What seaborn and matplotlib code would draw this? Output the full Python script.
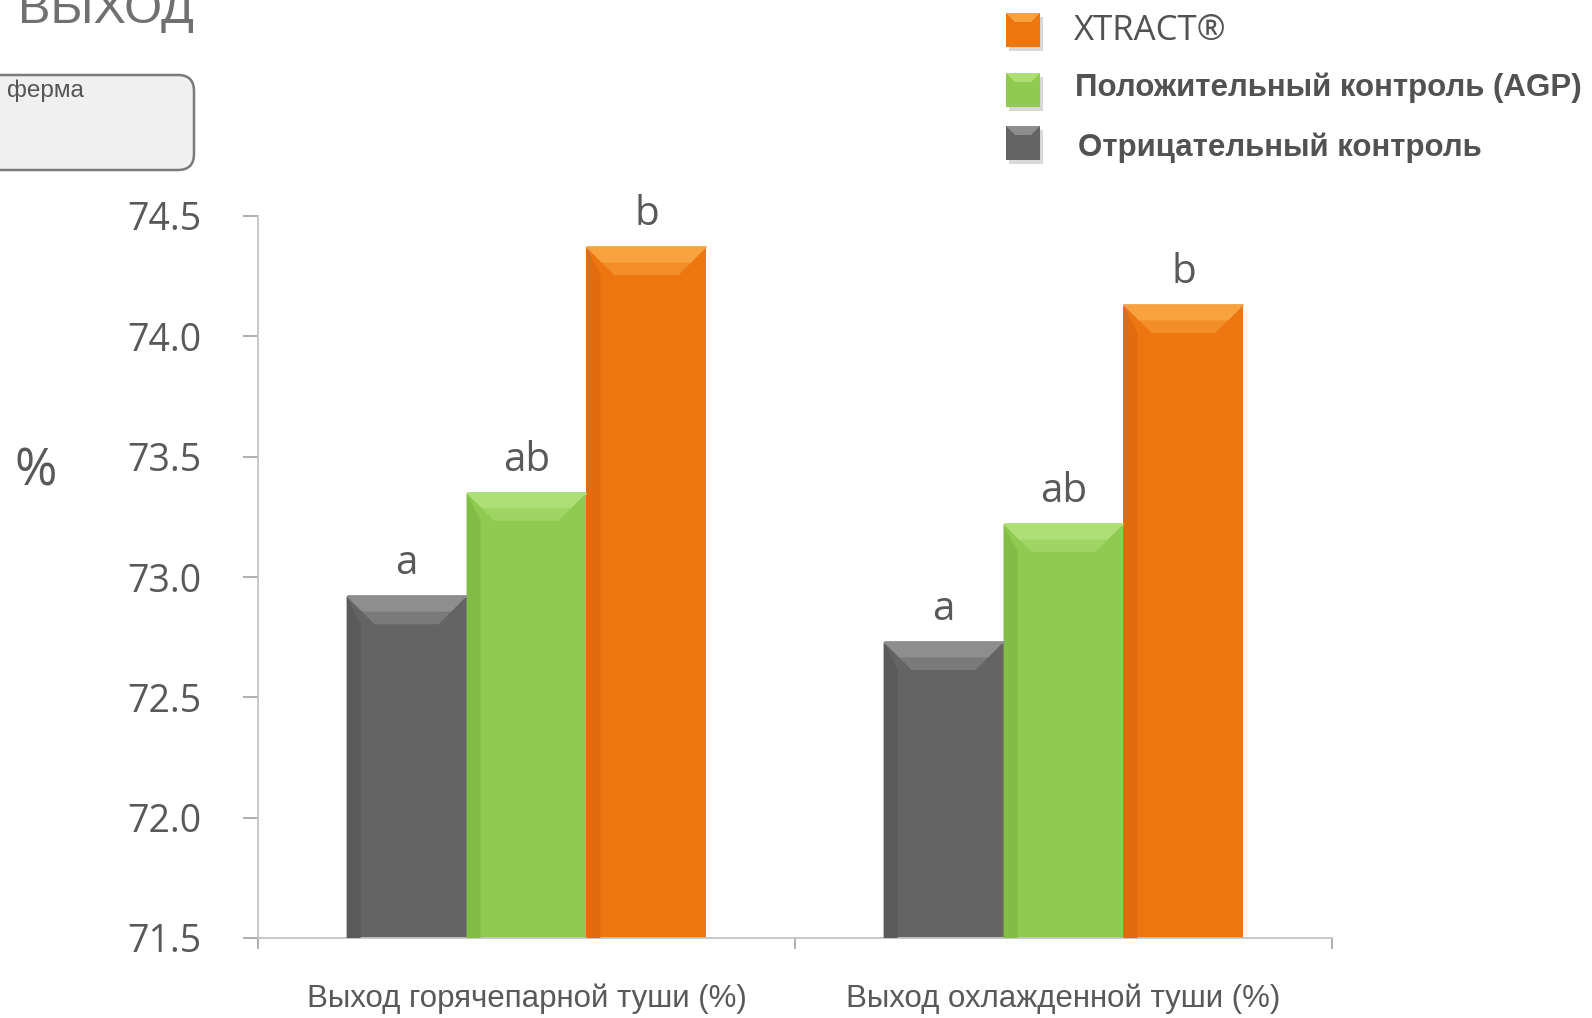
import matplotlib
matplotlib.use("Agg")
import matplotlib.pyplot as plt
import seaborn as sns
import pandas as pd
import numpy as np
from matplotlib.patches import Polygon, Rectangle, FancyBboxPatch

# ---- data ----
categories = ["Выход горячепарной туши (%)", "Выход охлажденной туши (%)"]
groups = ["Отрицательный контроль", "Положительный контроль (AGP)", "XTRACT®"]
neg_values = [72.92, 72.73]
agp_values = [73.35, 73.22]
xtract_values = [74.37, 74.13]
neg_letters = ["a", "a"]
agp_letters = ["ab", "ab"]
xtract_letters = ["b", "b"]
y_ticks = [71.5, 72.0, 72.5, 73.0, 73.5, 74.0, 74.5]
title_text = "ВЫХОД"
box_text = "ферма"
y_label = "%"

colors = ["#646464", "#8fcb51", "#ee7611"]
top_colors = ["#8e8e8e", "#addf76", "#f7a23e"]
mid_colors = ["#7a7a7a", "#9ed563", "#f28d27"]
left_colors = ["#5a5a5a", "#82bd47", "#e06c0d"]

df = pd.DataFrame({
    "cat": categories * 3,
    "group": [groups[0]] * 2 + [groups[1]] * 2 + [groups[2]] * 2,
    "value": neg_values + agp_values + xtract_values,
})
letters = [neg_letters, agp_letters, xtract_letters]

sns.set_style("white")
plt.rcParams["font.family"] = ["Open Sans", "DejaVu Sans"]

fig = plt.figure(figsize=(15.92, 10.18), dpi=100)
ax = fig.add_axes([258 / 1592, 1 - 938 / 1018, (1332 - 258) / 1592, (938 - 216) / 1018])

sns.barplot(data=df, x="cat", y="value", hue="group", hue_order=groups,
            order=categories, palette=colors, width=0.67, saturation=1,
            edgecolor="none", linewidth=0, legend=False, ax=ax)

ax.set_xlim(-0.5, 1.5)
ax.set_ylim(71.5, 74.5)
ax.set_yticks(y_ticks)
ax.set_yticklabels([f"{v:.1f}" for v in y_ticks])
ax.set_xlabel("")
ax.set_ylabel("")

for s in ["top", "right"]:
    ax.spines[s].set_visible(False)
for s in ["left", "bottom"]:
    ax.spines[s].set_color("#c4c4c4")
    ax.spines[s].set_linewidth(1.3)

ax.tick_params(axis="y", which="major", direction="out", length=10.5, width=1.3,
               color="#a8a8a8", pad=30, labelsize=27, labelcolor="#595959", left=True)
ax.tick_params(axis="x", which="major", length=0, pad=33, labelsize=22.5,
               labelcolor="#595959")
for lab in ax.get_xticklabels():
    lab.set_family(["Liberation Sans", "DejaVu Sans"])
ax.set_xticks([-0.5, 0.5, 1.5], minor=True)
ax.tick_params(axis="x", which="minor", direction="out", length=8, width=1.3,
               color="#a8a8a8", bottom=True)

# bevel decorations derived from the bar geometry
px_x = ax.transData.transform([(1, 0)])[0][0] - ax.transData.transform([(0, 0)])[0][0]
px_y = ax.transData.transform([(0, 1)])[0][1] - ax.transData.transform([(0, 0)])[0][1]
d = 28
dx, dy = d / px_x, d / px_y
side = 14 / px_x
for gi, cont in enumerate(ax.containers):
    for bi, bar in enumerate(cont):
        x0 = bar.get_x()
        w = bar.get_width()
        top = bar.get_y() + bar.get_height()
        x1 = x0 + w
        base = 71.5
        # left darker strip
        ax.add_patch(Polygon([(x0, base), (x0, top), (x0 + side, top - dy), (x0 + side, base)],
                             closed=True, facecolor=left_colors[gi], edgecolor="none", zorder=3))
        # top bevel (two tones for a soft gradient)
        ax.add_patch(Polygon([(x0, top), (x1, top), (x1 - dx, top - dy), (x0 + dx, top - dy)],
                             closed=True, facecolor=mid_colors[gi], edgecolor="none", zorder=3))
        ax.add_patch(Polygon([(x0, top), (x1, top), (x1 - dx * 0.55, top - dy * 0.55),
                              (x0 + dx * 0.55, top - dy * 0.55)],
                             closed=True, facecolor=top_colors[gi], edgecolor="none", zorder=3))
        ax.plot([x0, x1], [top, top], color=top_colors[gi], lw=2, zorder=4,
                solid_capstyle="butt")
        ax.annotate(letters[gi][bi], xy=(x0 + w / 2, top), xytext=(0, 16),
                    textcoords="offset points", ha="center", va="baseline",
                    fontsize=29, color="#595959", annotation_clip=False)

# y label
fig.text(36 / 1592, 1 - 472 / 1018, y_label, ha="center", va="center",
         fontsize=37, color="#595959")

# title (cropped at top, as in the reference)
fig.text(18 / 1592, 1 - 23 / 1018, title_text, ha="left", va="baseline",
         fontsize=35, color="#707070", family=["Liberation Sans", "DejaVu Sans"])

# box
box = FancyBboxPatch((-30, 1018 - 170), 224, 95, boxstyle="round,pad=0,rounding_size=16",
                     transform=None, facecolor="#f0f0f0", edgecolor="#7a7a7a", linewidth=1.8)
fig.patches.append(box)
fig.text(7 / 1592, 1 - 80 / 1018, box_text, ha="left", va="top", fontsize=17.5,
         color="#555555", family=["Liberation Sans", "DejaVu Sans"])

# legend
legend_rows = [
    (groups[2], colors[2], top_colors[2], 30, 31, "normal", 25, ["Open Sans", "DejaVu Sans"], 1074),
    (groups[1], colors[1], top_colors[1], 90, 88, "bold", 22.5, ["Liberation Sans", "DejaVu Sans"], 1075),
    (groups[0], colors[0], top_colors[0], 143, 148, "bold", 22.5, ["Liberation Sans", "DejaVu Sans"], 1078),
]
for label, col, tcol, yc, ty, wt, fs, fam, tx in legend_rows:
    sq = 34
    x0 = 1006
    y0 = 1018 - yc - sq / 2
    fig.patches.append(Rectangle((x0 + 3, y0 - 4), sq, sq, transform=None,
                                 facecolor="#d8d8d8", edgecolor="none"))
    fig.patches.append(Rectangle((x0, y0), sq, sq, transform=None,
                                 facecolor=col, edgecolor="none"))
    fig.patches.append(Polygon([(x0, y0 + sq), (x0 + sq, y0 + sq), (x0 + sq - 9, y0 + sq - 9),
                                (x0 + 9, y0 + sq - 9)], closed=True, transform=None,
                               facecolor=tcol, edgecolor="none"))
    fig.text(tx / 1592, 1 - ty / 1018, label, ha="left", va="center", fontsize=fs,
             fontweight=wt, color="#525252", family=fam)

fig.savefig("out.png", dpi=100)
